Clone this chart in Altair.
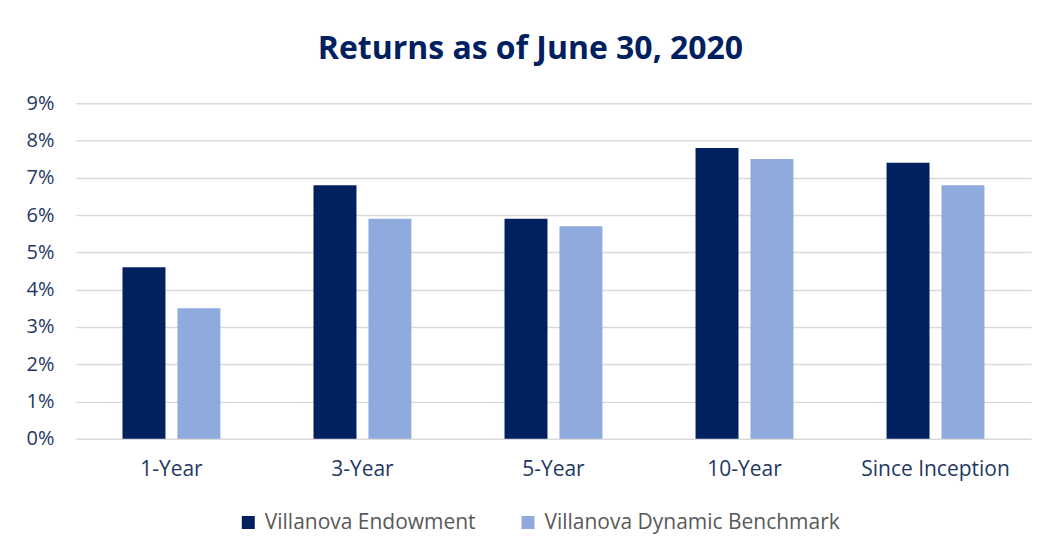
import altair as alt
import pandas as pd

categories = ["1-Year", "3-Year", "5-Year", "10-Year", "Since Inception"]
endowment = [4.6, 6.8, 5.9, 7.8, 7.4]
benchmark = [3.5, 5.9, 5.7, 7.5, 6.8]
series = ["Villanova Endowment", "Villanova Dynamic Benchmark"]
colors = ["#002060", "#8FAADC"]
y_ticks = [0, 0.01, 0.02, 0.03, 0.04, 0.05, 0.06, 0.07, 0.08, 0.09]

rows = []
for c, e, b in zip(categories, endowment, benchmark):
    rows.append({"category": c, "series": series[0], "value": e / 100})
    rows.append({"category": c, "series": series[1], "value": b / 100})
df = pd.DataFrame(rows)

FONT = "Open Sans"

chart = alt.Chart(df).mark_bar().encode(
    x=alt.X("category:N", sort=categories, title=None,
            scale=alt.Scale(paddingInner=0.4875, paddingOuter=0.24375),
            axis=alt.Axis(labelAngle=0, labelFont=FONT, labelFontSize=21,
                          labelColor="#1F3864", labelPadding=20,
                          domain=False, ticks=False, grid=False)),
    xOffset=alt.XOffset("series:N", sort=series,
                        scale=alt.Scale(paddingInner=0.218, paddingOuter=0)),
    y=alt.Y("value:Q", title=None,
            scale=alt.Scale(domain=[0, 0.09], nice=False),
            axis=alt.Axis(values=y_ticks, format=".0%", labelFont=FONT,
                          labelFontSize=20, labelColor="#1F3864",
                          labelPadding=22, domain=False, ticks=False,
                          gridColor="#D9D9D9", gridWidth=1.5)),
    color=alt.Color("series:N", sort=series,
                    scale=alt.Scale(domain=series, range=colors),
                    legend=alt.Legend(title=None, orient="none",
                                      direction="horizontal",
                                      legendX=162, legendY=409,
                                      symbolType="square", symbolSize=169,
                                      symbolStrokeWidth=0,
                                      labelFont=FONT, labelFontSize=21,
                                      labelColor="#595959", labelLimit=500,
                                      columnPadding=41, labelOffset=6)),
).properties(
    width=956,
    height=336,
    background="white",
    title=alt.TitleParams("Returns as of June 30, 2020", font=FONT,
                          fontSize=32, fontWeight="bold", color="#002060",
                          anchor="middle", frame="group", dx=-23, offset=27),
    padding={"left": 68, "top": 95, "right": 10, "bottom": 100},
    autosize=alt.AutoSizeParams(type="none"),
).configure_view(strokeWidth=0, stroke="transparent")

chart.save("out.html", embed_options={"renderer": "svg", "actions": False})
